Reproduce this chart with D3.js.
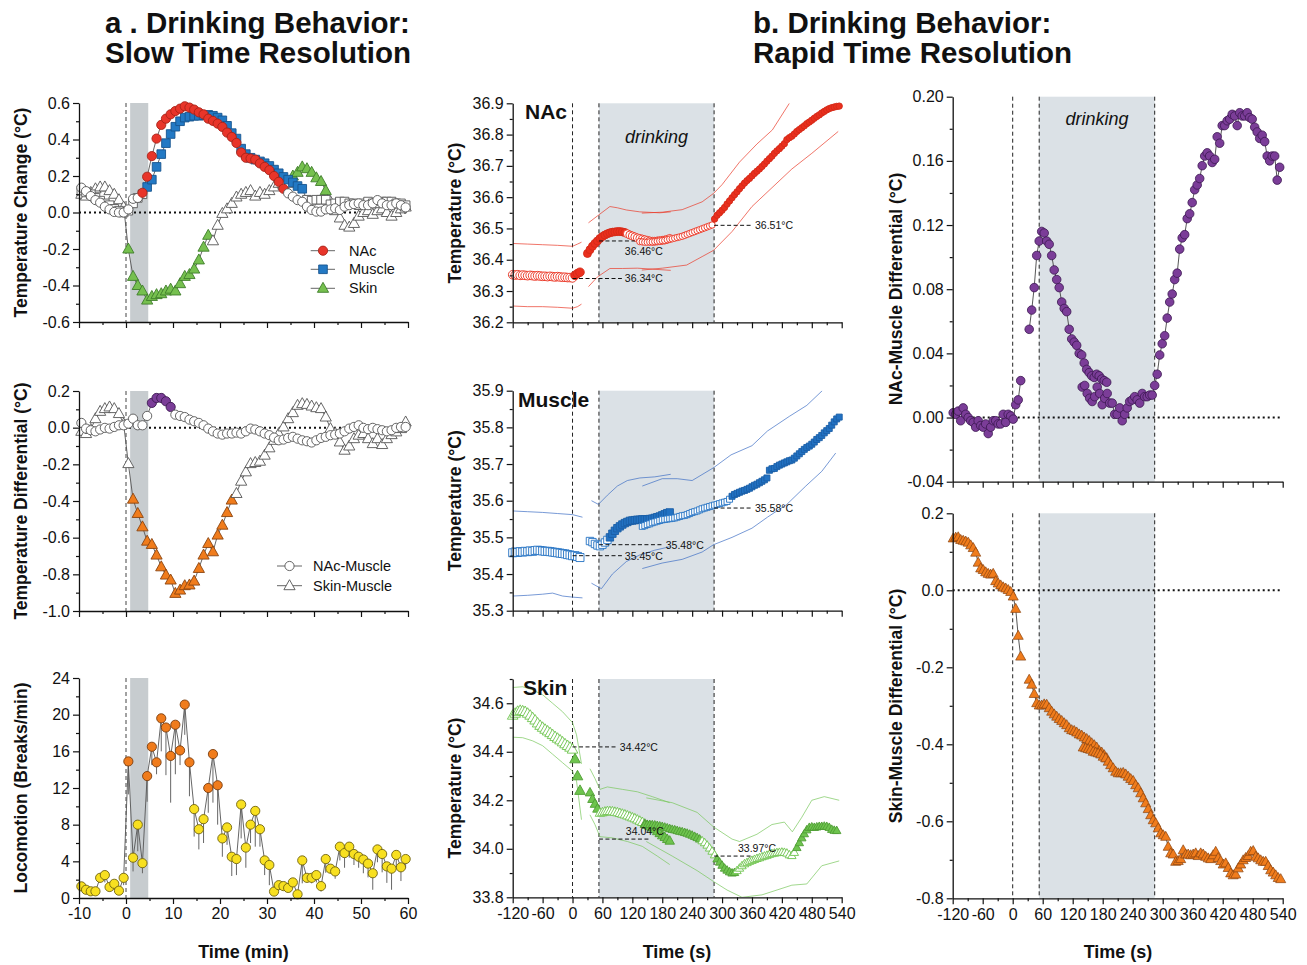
<!DOCTYPE html>
<html>
<head>
<meta charset="utf-8">
<script src="https://cdn.jsdelivr.net/npm/d3@7/dist/d3.min.js"></script>
<style>
  body { margin: 0; background: #fff; }
</style>
</head>
<body>
<script>
// ---------------- data ----------------
// drinking bout boundaries (s), relative to bout onset marker at 0
const drinkOnset = 53;
const drinkOffset = 284;

// slow time resolution: one value per minute, centred on half minutes
const minuteT = d3.range(70).map(i => -9.5 + i);

const nacChange = [0.136, 0.117, 0.09, 0.068, 0.054, 0.032, 0.017, 0.003, 0.0, 0.0,
  0.017, 0.075, 0.08, 0.108, 0.196, 0.309, 0.405, 0.48, 0.514, 0.538,
  0.556, 0.569, 0.582, 0.575, 0.564, 0.549, 0.538, 0.514, 0.502, 0.487,
  0.469, 0.438, 0.414, 0.381, 0.329, 0.3, 0.296, 0.29, 0.269, 0.25,
  0.232, 0.2, 0.168, 0.13, 0.105, 0.087, 0.068, 0.059, 0.032, 0.014,
  0.005, 0.005, 0.017, 0.017, 0.023, 0.014, 0.032, 0.04, 0.046, 0.05,
  0.04, 0.04, 0.05, 0.068, 0.05, 0.04, 0.04, 0.05, 0.04, 0.028];
const muscleChange = [0.12, 0.11, 0.10, 0.08, 0.065, 0.05, 0.04, 0.02, 0.01, 0.0,
  0.01, 0.05, 0.08, 0.10, 0.14, 0.18, 0.25, 0.32, 0.38, 0.43,
  0.47, 0.50, 0.52, 0.525, 0.53, 0.53, 0.533, 0.535, 0.53, 0.52,
  0.505, 0.475, 0.435, 0.405, 0.35, 0.32, 0.30, 0.29, 0.28, 0.27,
  0.255, 0.235, 0.215, 0.195, 0.18, 0.165, 0.145, 0.13, 0.07, 0.065,
  0.07, 0.07, 0.07, 0.045, 0.05, 0.06, 0.06, 0.05, 0.05, 0.04,
  0.05, 0.06, 0.05, 0.05, 0.06, 0.06, 0.06, 0.05, 0.05, 0.04];
const skinChange = [0.10, 0.09, 0.11, 0.13, 0.14, 0.14, 0.12, 0.10, 0.07, 0.03,
  -0.20, -0.35, -0.40, -0.43, -0.48, -0.46, -0.45, -0.445, -0.43, -0.42,
  -0.43, -0.39, -0.35, -0.34, -0.31, -0.26, -0.19, -0.125, -0.155, -0.07,
  -0.005, 0.02, 0.05, 0.085, 0.10, 0.11, 0.12, 0.09, 0.11, 0.10,
  0.12, 0.14, 0.16, 0.15, 0.16, 0.20, 0.22, 0.25, 0.24, 0.22,
  0.19, 0.17, 0.12, 0.06, 0.01, -0.03, -0.07, -0.08, -0.06, -0.02,
  0.0, 0.01, -0.01, 0.01, 0.02, 0.0, -0.02, 0.0, 0.02, 0.03];
const nacMuscleDiff = [0.026, -0.005, -0.014, -0.02, -0.01, -0.001, -0.005, 0.004, 0.013, 0.013,
  0.022, 0.049, 0.013, 0.013, 0.064, 0.135, 0.162, 0.162, 0.144, 0.113,
  0.071, 0.064, 0.058, 0.044, 0.035, 0.026, 0.013, -0.005, -0.02, -0.032,
  -0.038, -0.032, -0.032, -0.027, -0.032, -0.02, -0.005, -0.01, -0.02, -0.032,
  -0.041, -0.054, -0.069, -0.065, -0.056, -0.05, -0.06, -0.069, -0.074, -0.081,
  -0.069, -0.056, -0.05, -0.041, -0.038, -0.032, -0.02, -0.005, 0.004, 0.013,
  -0.001, -0.008, -0.001, -0.008, -0.014, -0.02, -0.014, -0.001, 0.004, 0.004];
const skinMuscleDiff = [-0.02, -0.032, -0.01, 0.049, 0.089, 0.104, 0.113, 0.104, 0.077, 0.02,
  -0.196, -0.39, -0.468, -0.541, -0.619, -0.637, -0.695, -0.759, -0.804, -0.831,
  -0.904, -0.886, -0.862, -0.858, -0.837, -0.768, -0.695, -0.632, -0.677, -0.586,
  -0.532, -0.463, -0.395, -0.359, -0.292, -0.241, -0.196, -0.19, -0.183, -0.15,
  -0.11, -0.069, -0.032, 0.004, 0.049, 0.082, 0.122, 0.131, 0.127, 0.118,
  0.109, 0.104, 0.058, -0.005, -0.03, -0.078, -0.123, -0.1, -0.06, -0.041,
  -0.032, -0.06, -0.087, -0.06, -0.092, -0.06, -0.038, -0.023, -0.005, 0.031];
const locomotion = [1.27, 0.9, 0.73, 0.73, 2.2, 2.5, 1.2, 1.55, 0.8, 2.2,
  14.9, 4.4, 8.0, 3.8, 13.3, 16.5, 14.8, 19.6, 18.6, 15.5,
  18.9, 16.1, 21.1, 14.8, 9.7, 7.5, 8.6, 12.0, 15.7, 12.3,
  6.5, 7.7, 4.5, 4.25, 10.2, 5.5, 8.0, 9.5, 7.5, 4.1,
  3.6, 0.7, 1.4, 1.3, 1.1, 1.7, 0.4, 4.1, 2.2, 2.2,
  2.5, 1.3, 4.25, 3.2, 2.9, 5.6, 4.9, 5.6, 4.8, 4.5,
  4.2, 3.75, 2.7, 5.3, 4.8, 3.45, 3.2, 4.7, 3.35, 4.25];
const locomotionSem = [0.5, 0.4, 0.3, 0.3, 0.5, 0.8, 0.5, 0.4, 0.3, 0.8,
  3.6, 1.5, 2.9, 1.1, 2.8, 2.0, 1.3, 3.6, 5.2, 5.1,
  5.4, 1.6, 3.3, 3.7, 3.0, 2.2, 2.6, 2.7, 5.3, 4.3,
  2.0, 1.9, 2.1, 1.75, 3.7, 2.2, 2.0, 3.9, 1.9, 1.6,
  2.2, 0.4, 0.3, 0.3, 0.4, 0.5, 0.3, 2.5, 0.5, 0.6,
  0.8, 0.6, 1.5, 0.5, 0.8, 1.5, 1.6, 1.2, 1.2, 1.2,
  1.5, 1.5, 1.8, 1.4, 2.0, 1.8, 2.3, 1.5, 1.5, 1.0];

// minutes in which the change is significant (filled symbols)
const nacSigMin = [[3.5, 33.5]];
const muscleSigMin = [[4.5, 37.5]];
const skinSigMin = [[0.5, 17.5], [35.5, 42.5]];
const nacMuscleSigMin = [[5.5, 9.5]];
const skinMuscleSigMin = [[1.5, 22.5]];
const locomotionSigMin = [[0.5, 0.5], [4.5, 13.5], [17.5, 19.5]];

// rapid time resolution: 5-s bins, three analysis segments
const binS = 5;

const nacStart = [-120, 30, 135];
const nacSeg1 = [36.352, 36.351, 36.352, 36.350, 36.351, 36.350, 36.349, 36.350, 36.349, 36.348,
  36.349, 36.348, 36.347, 36.347, 36.346, 36.347, 36.346, 36.345, 36.346, 36.345,
  36.344, 36.344, 36.343, 36.343, 36.342, 36.350, 36.356, 36.360];
const nacSeg2 = [36.420, 36.432, 36.443, 36.452, 36.460, 36.468, 36.474, 36.479, 36.483, 36.486,
  36.488, 36.489, 36.490, 36.490, 36.489, 36.487, 36.483, 36.479, 36.476, 36.473,
  36.470, 36.468, 36.466, 36.464, 36.462, 36.460, 36.459, 36.459, 36.460, 36.461,
  36.462, 36.463, 36.465, 36.468];
const nacSeg3 = [36.458, 36.457, 36.456, 36.456, 36.457, 36.457, 36.458, 36.459, 36.460, 36.461,
  36.462, 36.464, 36.466, 36.467, 36.469, 36.471, 36.473, 36.475, 36.478, 36.481,
  36.484, 36.487, 36.490, 36.493, 36.496, 36.499, 36.502, 36.505, 36.508, 36.511,
  36.530, 36.542, 36.550, 36.558, 36.567, 36.578, 36.588, 36.598, 36.608, 36.617,
  36.627, 36.636, 36.645, 36.653, 36.660, 36.668, 36.676, 36.683, 36.690, 36.698,
  36.706, 36.715, 36.723, 36.731, 36.740, 36.748, 36.755, 36.763, 36.771, 36.784,
  36.790, 36.795, 36.802, 36.810, 36.816, 36.822, 36.828, 36.835, 36.840, 36.846,
  36.852, 36.858, 36.863, 36.869, 36.874, 36.879, 36.883, 36.886, 36.888, 36.890,
  36.891];
const nacSigS = [[[5, 15]], [[30, 105]], [[285, 540]]];
const nacSemHi = [
  [[-120, 36.452], [-90, 36.450], [-60, 36.448], [-30, 36.446], [0, 36.443], [10, 36.450], [18, 36.456]],
  [[32, 36.518], [50, 36.540], [75, 36.570], [90, 36.566], [108, 36.559], [135, 36.553], [175, 36.550], [197, 36.553]],
  [[139, 36.549], [180, 36.552], [220, 36.560], [260, 36.585], [283, 36.612], [300, 36.640], [335, 36.712], [370, 36.770], [401, 36.815], [435, 36.900]]
];
const nacSemLo = [
  [[-120, 36.252], [-90, 36.250], [-60, 36.250], [-30, 36.248], [0, 36.245], [10, 36.250], [18, 36.258]],
  [[32, 36.314], [50, 36.345], [75, 36.372], [100, 36.372], [130, 36.373], [160, 36.370], [197, 36.366]],
  [[139, 36.367], [180, 36.373], [229, 36.383], [260, 36.410], [283, 36.430], [320, 36.490], [360, 36.570], [400, 36.630], [440, 36.690], [480, 36.740], [533, 36.810]]
];
const nacRefs = [36.34, 36.46, 36.51];

const musStart = [-120, 35, 140];
const musSeg1 = [35.458, 35.460, 35.459, 35.461, 35.460, 35.462, 35.461, 35.463, 35.462, 35.464,
  35.465, 35.464, 35.463, 35.462, 35.462, 35.461, 35.460, 35.459, 35.458, 35.457,
  35.456, 35.455, 35.453, 35.452, 35.450, 35.450, 35.448, 35.445];
const musSeg2 = [35.490, 35.487, 35.482, 35.478, 35.476, 35.480, 35.486, 35.493, 35.500, 35.510,
  35.518, 35.525, 35.530, 35.535, 35.539, 35.542, 35.545, 35.546, 35.547, 35.548,
  35.548, 35.549, 35.549, 35.549, 35.550, 35.551, 35.553, 35.555, 35.557, 35.560,
  35.563, 35.566, 35.568];
const musSeg3 = [35.530, 35.532, 35.535, 35.537, 35.540, 35.542, 35.544, 35.546, 35.548, 35.549,
  35.550, 35.551, 35.552, 35.553, 35.555, 35.557, 35.559, 35.560, 35.562, 35.565,
  35.568, 35.570, 35.572, 35.575, 35.578, 35.580, 35.582, 35.584, 35.586, 35.588,
  35.590, 35.592, 35.594, 35.596, 35.598, 35.604, 35.612, 35.617, 35.620, 35.623,
  35.626, 35.628, 35.631, 35.634, 35.638, 35.642, 35.645, 35.649, 35.653, 35.657,
  35.662, 35.683, 35.687, 35.688, 35.693, 35.697, 35.700, 35.703, 35.706, 35.709,
  35.711, 35.716, 35.722, 35.728, 35.734, 35.740, 35.745, 35.749, 35.754, 35.760,
  35.767, 35.772, 35.778, 35.785, 35.791, 35.797, 35.806, 35.815, 35.823, 35.828];
const musSigS = [[], [[75, 195]], [[320, 540]]];
const musSemHi = [
  [[-120, 35.572], [-90, 35.570], [-60, 35.568], [-30, 35.565], [0, 35.562], [20, 35.555]],
  [[38, 35.600], [52, 35.590], [70, 35.615], [90, 35.640], [110, 35.655], [135, 35.662], [165, 35.665], [197, 35.672]],
  [[140, 35.640], [180, 35.660], [210, 35.660], [240, 35.655], [283, 35.690], [318, 35.725], [360, 35.750], [391, 35.790], [435, 35.830], [470, 35.860], [501, 35.900]]
];
const musSemLo = [
  [[-120, 35.340], [-90, 35.342], [-60, 35.345], [-40, 35.348], [-20, 35.340], [0, 35.337], [20, 35.335]],
  [[38, 35.375], [58, 35.360], [80, 35.400], [108, 35.434], [135, 35.452], [165, 35.465], [197, 35.475]],
  [[140, 35.415], [180, 35.430], [220, 35.440], [260, 35.460], [283, 35.480], [320, 35.500], [360, 35.525], [391, 35.555], [430, 35.590], [468, 35.640], [500, 35.680], [528, 35.730]]
];
const musRefs = [35.45, 35.48, 35.58];

const skinStart = [-120, 35, 145];
const skinSeg1 = [34.550, 34.558, 34.566, 34.570, 34.568, 34.565, 34.558, 34.550, 34.540, 34.530,
  34.518, 34.508, 34.500, 34.492, 34.485, 34.478, 34.470, 34.462, 34.455, 34.448,
  34.440, 34.432, 34.425, 34.418, 34.410, 34.370, 34.300, 34.240];
const skinSeg2 = [34.232, 34.205, 34.185, 34.165, 34.148, 34.150, 34.153, 34.155, 34.155, 34.154,
  34.152, 34.150, 34.147, 34.144, 34.141, 34.137, 34.133, 34.129, 34.125, 34.120,
  34.115, 34.110, 34.103, 34.098, 34.092, 34.087, 34.080, 34.072, 34.064, 34.055,
  34.048, 34.040, 34.033];
const skinSeg3 = [34.100, 34.100, 34.100, 34.099, 34.098, 34.096, 34.094, 34.092, 34.089, 34.086,
  34.083, 34.080, 34.078, 34.075, 34.072, 34.070, 34.067, 34.064, 34.060, 34.056,
  34.051, 34.046, 34.040, 34.033, 34.025, 34.015, 34.003, 33.990, 33.975, 33.958,
  33.945, 33.932, 33.920, 33.912, 33.905, 33.900, 33.902, 33.910, 33.920, 33.930,
  33.938, 33.943, 33.948, 33.952, 33.956, 33.960, 33.963, 33.967, 33.970, 33.973,
  33.977, 33.980, 33.982, 33.984, 33.985, 33.986, 33.985, 33.982, 33.975, 33.972,
  33.985, 34.005, 34.025, 34.045, 34.062, 34.078, 34.088, 34.090, 34.088, 34.090,
  34.092, 34.092, 34.093, 34.092, 34.088, 34.080, 34.076, 34.075];
const skinSigS = [[[5, 15]], [[35, 50], [145, 195]], [[145, 255], [290, 325], [450, 535]]];
const skinSemHi = [
  [[-120, 34.665], [-100, 34.668], [-80, 34.655], [-60, 34.635], [-40, 34.600], [-20, 34.565], [0, 34.520], [8, 34.470], [18, 34.350]],
  [[35, 34.330], [45, 34.290], [55, 34.245], [70, 34.255], [100, 34.245], [130, 34.235], [160, 34.215], [195, 34.190]],
  [[148, 34.210], [200, 34.190], [250, 34.150], [283, 34.090], [320, 34.040], [335, 34.030], [370, 34.060], [400, 34.100], [425, 34.110], [441, 34.070], [460, 34.130], [480, 34.200], [505, 34.215], [535, 34.200]]
];
const skinSemLo = [
  [[-120, 34.460], [-100, 34.458], [-80, 34.445], [-60, 34.425], [-40, 34.390], [-20, 34.355], [0, 34.320], [8, 34.280], [18, 34.120]],
  [[35, 34.140], [45, 34.100], [55, 34.050], [80, 34.045], [110, 34.030], [140, 34.010], [170, 33.970], [195, 33.935]],
  [[148, 34.030], [200, 33.970], [250, 33.910], [283, 33.865], [310, 33.830], [340, 33.800], [380, 33.810], [440, 33.850], [470, 33.855], [500, 33.930], [535, 33.950]]
];
const skinRefs = [34.42, 34.04, 33.97];

// NAc - muscle differential, 5-s bins
const nmStart = [-119, 33, 139];
const nmSeg1 = [0.003, 0.002, 0.004, -0.002, 0.006, 0.002, 0.000, -0.002, -0.003, -0.006,
  -0.002, -0.005, -0.006, -0.004, -0.010, -0.006, -0.002, -0.002, -0.004, -0.004,
  0.002, -0.003, 0.002, 0.001, -0.001, 0.008, 0.011, 0.023];
const nmSeg2 = [0.055, 0.067, 0.081, 0.101, 0.110, 0.116, 0.115, 0.110, 0.108, 0.101,
  0.092, 0.086, 0.081, 0.072, 0.068, 0.066, 0.055, 0.049, 0.047, 0.045,
  0.040, 0.039, 0.034, 0.030, 0.028, 0.026, 0.025, 0.027, 0.026, 0.024,
  0.023, 0.022];
const nmSeg3 = [0.019, 0.020, 0.015, 0.012, 0.010, 0.013, 0.019, 0.015, 0.008, 0.012,
  0.015, 0.009, 0.009, 0.002, 0.002, 0.006, -0.002, 0.002, 0.006, 0.010,
  0.011, 0.013, 0.011, 0.009, 0.015, 0.013, 0.013, 0.014, 0.014, 0.020,
  0.027, 0.039, 0.046, 0.051, 0.062, 0.072, 0.077, 0.086, 0.090, 0.105,
  0.112, 0.114, 0.124, 0.127, 0.134, 0.142, 0.145, 0.149, 0.157, 0.163,
  0.165, 0.163, 0.159, 0.161, 0.175, 0.171, 0.182, 0.182, 0.185, 0.186,
  0.189, 0.188, 0.182, 0.190, 0.188, 0.188, 0.190, 0.187, 0.186, 0.181,
  0.178, 0.174, 0.176, 0.172, 0.163, 0.160, 0.163, 0.163, 0.148, 0.156];

// skin - muscle differential, 5-s bins
const smStart = [-119, 33, 141];
const smSeg1 = [0.135, 0.137, 0.138, 0.131, 0.129, 0.127, 0.124, 0.117, 0.110, 0.098,
  0.072, 0.057, 0.053, 0.047, 0.043, 0.041, 0.043, 0.024, 0.018, 0.013,
  0.008, 0.005, 0.001, -0.004, -0.016, -0.048, -0.118, -0.172];
const smSeg2 = [-0.232, -0.245, -0.269, -0.293, -0.299, -0.299, -0.296, -0.297, -0.306, -0.315,
  -0.322, -0.328, -0.334, -0.339, -0.345, -0.350, -0.358, -0.363, -0.365, -0.369,
  -0.374, -0.377, -0.382, -0.386, -0.391, -0.397, -0.402, -0.408, -0.417, -0.421,
  -0.428, -0.436];
const smSeg3 = [-0.408, -0.410, -0.412, -0.414, -0.419, -0.421, -0.423, -0.426, -0.432, -0.436,
  -0.445, -0.454, -0.462, -0.471, -0.475, -0.475, -0.474, -0.478, -0.484, -0.490,
  -0.495, -0.506, -0.514, -0.527, -0.540, -0.553, -0.568, -0.584, -0.597, -0.605,
  -0.618, -0.631, -0.636, -0.640, -0.666, -0.683, -0.686, -0.705, -0.703, -0.698,
  -0.675, -0.686, -0.686, -0.688, -0.686, -0.683, -0.690, -0.683, -0.686, -0.692,
  -0.696, -0.698, -0.688, -0.679, -0.695, -0.703, -0.712, -0.709, -0.721, -0.735,
  -0.740, -0.738, -0.722, -0.712, -0.701, -0.695, -0.690, -0.679, -0.677, -0.692,
  -0.696, -0.701, -0.705, -0.705, -0.716, -0.727, -0.733, -0.740, -0.747, -0.750];

// ---------------- drawing ----------------
const FONT = '"Liberation Sans", Arial, Helvetica, sans-serif';
const svg = d3.select('body').append('svg')
  .attr('width', 1307).attr('height', 965)
  .attr('font-family', FONT);
svg.append('rect').attr('width', 1307).attr('height', 965).attr('fill', '#fff');
const defs = svg.append('defs');

const within = (t, ranges) => ranges.some(r => t >= r[0] - 1e-6 && t <= r[1] + 1e-6);
const minutePts = (vals, sig) => vals.map((v, i) => ({ t: minuteT[i], v, f: within(minuteT[i], sig) }));
const segPts = (vals, t0, sig) => vals.map((v, i) => {
  const t = t0 + i * binS;
  return { t, v, f: within(t, sig) };
});

let clipCount = 0;
function clipFor(x, y) {
  const id = 'plotclip' + (clipCount++);
  defs.append('clipPath').attr('id', id).append('rect')
    .attr('x', x.range()[0]).attr('y', y.range()[1])
    .attr('width', x.range()[1] - x.range()[0])
    .attr('height', y.range()[0] - y.range()[1]);
  return `url(#${id})`;
}

function styleAxis(g) {
  g.attr('font-family', FONT);
  g.select('.domain').attr('stroke', '#111').attr('stroke-width', 1.3);
  g.selectAll('.tick line').attr('stroke', '#111').attr('stroke-width', 1.2);
  g.selectAll('.tick text').attr('font-size', 16).attr('fill', '#111');
}

function drawAxes(x, y, o) {
  const y0 = y.range()[0], x0 = x.range()[0];
  const xm = svg.append('g').attr('transform', `translate(0,${y0})`)
    .call(d3.axisBottom(x).tickValues(o.xMinor).tickSize(3).tickFormat(''));
  xm.select('.domain').remove(); styleAxis(xm);
  const ym = svg.append('g').attr('transform', `translate(${x0},0)`)
    .call(d3.axisLeft(y).tickValues(o.yMinor).tickSize(3).tickFormat(''));
  ym.select('.domain').remove(); styleAxis(ym);
  const xa = svg.append('g').attr('transform', `translate(0,${y0})`)
    .call(d3.axisBottom(x).tickValues(o.xMajor).tickSize(6).tickSizeOuter(0).tickPadding(4)
      .tickFormat(o.xLabels ? (d => String(d)) : ''));
  styleAxis(xa);
  const ya = svg.append('g').attr('transform', `translate(${x0},0)`)
    .call(d3.axisLeft(y).tickValues(o.yMajor).tickSize(6).tickSizeOuter(0).tickPadding(3)
      .tickFormat(d => d.toFixed(o.yDec)));
  styleAxis(ya);
}

function yTitle(text, xBase, yc) {
  svg.append('text')
    .attr('transform', `translate(${xBase},${yc}) rotate(-90)`)
    .attr('text-anchor', 'middle').attr('font-weight', 'bold')
    .attr('font-size', 17.5).attr('fill', '#111').text(text);
}
function xTitle(text, xc) {
  svg.append('text').attr('x', xc).attr('y', 958)
    .attr('text-anchor', 'middle').attr('font-weight', 'bold')
    .attr('font-size', 18).attr('fill', '#111').text(text);
}

function shapePath(shape, s) {
  if (shape === 'circle') {
    const r = s / 2;
    return `M${-r},0A${r},${r} 0 1,0 ${r},0A${r},${r} 0 1,0 ${-r},0Z`;
  }
  if (shape === 'square') {
    const h = s / 2;
    return `M${-h},${-h}H${h}V${h}H${-h}Z`;
  }
  return `M0,${-0.6 * s}L${0.56 * s},${0.4 * s}L${-0.56 * s},${0.4 * s}Z`;
}

function drawMarkers(pts, x, y, shape, s, st) {
  svg.append('g').selectAll('path').data(pts).join('path')
    .attr('transform', d => `translate(${x(d.t)},${y(d.v)})`)
    .attr('d', shapePath(shape, s))
    .attr('fill', d => d.f ? st.fill : st.open)
    .attr('stroke', d => d.f ? st.stroke : st.openStroke)
    .attr('stroke-width', st.sw);
}

function drawLine(pts, x, y, color, w, clip) {
  const p = svg.append('path').datum(pts)
    .attr('d', d3.line().x(d => x(d.t)).y(d => y(d.v)))
    .attr('fill', 'none').attr('stroke', color).attr('stroke-width', w)
    .attr('stroke-linejoin', 'round');
  if (clip) p.attr('clip-path', clip);
}

function zeroLine(x, y) {
  svg.append('line')
    .attr('x1', x.range()[0]).attr('x2', x.range()[1])
    .attr('y1', y(0)).attr('y2', y(0))
    .attr('stroke', '#111').attr('stroke-width', 2).attr('stroke-dasharray', '2,3');
}

function vDash(x, y, t, color) {
  svg.append('line')
    .attr('x1', x(t)).attr('x2', x(t))
    .attr('y1', y.range()[1]).attr('y2', y.range()[0])
    .attr('stroke', color).attr('stroke-width', 1).attr('stroke-dasharray', '4,3');
}

function shade(x, y, t0, t1, color) {
  svg.append('rect')
    .attr('x', x(t0)).attr('width', x(t1) - x(t0))
    .attr('y', y.range()[1]).attr('height', y.range()[0] - y.range()[1])
    .attr('fill', color);
}

// colour sets
const openGray = { open: '#fff', openStroke: '#555', sw: 0.9 };
const stRed = Object.assign({ fill: '#e8352a', stroke: '#a82418' }, openGray);
const stBlue = Object.assign({ fill: '#2379c4', stroke: '#17558e' }, openGray);
const stGreen = Object.assign({ fill: '#76c04f', stroke: '#3e7d2a' }, openGray);
const stPurple = Object.assign({ fill: '#7b3d98', stroke: '#3d1b52' }, openGray);
const stOrange = Object.assign({ fill: '#f07c1c', stroke: '#8a4410' }, openGray);
const stLoco = { fill: '#f07c1c', stroke: '#7a3c0c', open: '#f8e020', openStroke: '#6f6210', sw: 0.9 };

// ---------- titles ----------
[['a . Drinking Behavior:', 105, 33], ['Slow Time Resolution', 105, 63],
 ['b. Drinking Behavior:', 753, 33], ['Rapid Time Resolution', 753, 63]].forEach(([s, x, y]) => {
  svg.append('text').attr('x', x).attr('y', y)
    .attr('font-size', 29.5).attr('font-weight', 'bold').attr('fill', '#111').text(s);
});

// ---------- column a: slow time resolution ----------
const xA = d3.scaleLinear().domain([-10, 60]).range([79, 408]);
const yA1 = d3.scaleLinear().domain([-0.6, 0.6]).range([322, 103]);
const yA2 = d3.scaleLinear().domain([-1.0, 0.2]).range([611, 391]);
const yA3 = d3.scaleLinear().domain([0, 24]).range([898, 678]);
const xMajA = d3.range(-10, 61, 10), xMinA = d3.range(-5, 60, 10);

[yA1, yA2, yA3].forEach(y => {
  shade(xA, y, drinkOnset / 60, drinkOffset / 60, '#c7cccf');
  vDash(xA, y, 0, '#444');
});
zeroLine(xA, yA1);
zeroLine(xA, yA2);

// temperature change
const nacPts = minutePts(nacChange, nacSigMin);
const musPts = minutePts(muscleChange, muscleSigMin);
const skinPts = minutePts(skinChange, skinSigMin);
[skinPts, musPts, nacPts].forEach(p => drawLine(p, xA, yA1, '#555', 0.9));
drawMarkers(skinPts, xA, yA1, 'triangle', 10, stGreen);
drawMarkers(musPts, xA, yA1, 'square', 8.6, stBlue);
drawMarkers(nacPts, xA, yA1, 'circle', 9.2, stRed);
drawAxes(xA, yA1, { xMajor: xMajA, xMinor: xMinA, xLabels: false,
  yMajor: d3.range(-6, 7, 2).map(d => d / 10), yMinor: d3.range(-5, 6, 2).map(d => d / 10), yDec: 1 });
yTitle('Temperature Change (°C)', 27, 212.5);

// legend
[['NAc', 'circle', 9.2, stRed, 250.7], ['Muscle', 'square', 8.6, stBlue, 269.3], ['Skin', 'triangle', 10, stGreen, 288.3]]
  .forEach(([name, shape, s, st, y]) => {
    svg.append('line').attr('x1', 310.7).attr('x2', 335).attr('y1', y).attr('y2', y)
      .attr('stroke', '#555').attr('stroke-width', 0.9);
    svg.append('path').attr('transform', `translate(323,${y})`).attr('d', shapePath(shape, s))
      .attr('fill', st.fill).attr('stroke', st.stroke).attr('stroke-width', st.sw);
    svg.append('text').attr('x', 349).attr('y', y + 5).attr('font-size', 14.5).attr('fill', '#111').text(name);
  });

// temperature differential
const nmPtsA = minutePts(nacMuscleDiff, nacMuscleSigMin);
const smPtsA = minutePts(skinMuscleDiff, skinMuscleSigMin);
[smPtsA, nmPtsA].forEach(p => drawLine(p, xA, yA2, '#555', 0.9));
drawMarkers(smPtsA, xA, yA2, 'triangle', 10, stOrange);
drawMarkers(nmPtsA, xA, yA2, 'circle', 9.2, stPurple);
drawAxes(xA, yA2, { xMajor: xMajA, xMinor: xMinA, xLabels: false,
  yMajor: d3.range(-10, 3, 2).map(d => d / 10), yMinor: d3.range(-9, 2, 2).map(d => d / 10), yDec: 1 });
yTitle('Temperature Differential (°C)', 27, 501);

[['NAc-Muscle', 'circle', 9.2, 566], ['Skin-Muscle', 'triangle', 10, 585.7]].forEach(([name, shape, s, y]) => {
  svg.append('line').attr('x1', 277).attr('x2', 302).attr('y1', y).attr('y2', y)
    .attr('stroke', '#555').attr('stroke-width', 0.9);
  svg.append('path').attr('transform', `translate(289.5,${y})`).attr('d', shapePath(shape, s))
    .attr('fill', '#fff').attr('stroke', '#555').attr('stroke-width', 0.9);
  svg.append('text').attr('x', 313).attr('y', y + 5).attr('font-size', 14.5).attr('fill', '#111').text(name);
});

// locomotion
const locoPts = minutePts(locomotion, locomotionSigMin);
svg.append('g').selectAll('line').data(locoPts.map((d, i) => Object.assign({ e: locomotionSem[i] }, d)))
  .join('line')
  .attr('x1', d => xA(d.t)).attr('x2', d => xA(d.t))
  .attr('y1', d => yA3(d.v)).attr('y2', d => yA3(Math.max(0, d.v - d.e)))
  .attr('stroke', '#666').attr('stroke-width', 1);
drawLine(locoPts, xA, yA3, '#555', 0.9);
drawMarkers(locoPts, xA, yA3, 'circle', 9.2, stLoco);
drawAxes(xA, yA3, { xMajor: xMajA, xMinor: xMinA, xLabels: true,
  yMajor: d3.range(0, 25, 4), yMinor: d3.range(2, 24, 4), yDec: 0 });
yTitle('Locomotion (Breaks/min)', 27, 788);
xTitle('Time (min)', 243.5);

// ---------- column b: rapid time resolution, absolute temperatures ----------
const xB = d3.scaleLinear().domain([-120, 540]).range([512.7, 841.7]);
const xMajS = d3.range(-120, 541, 60), xMinS = d3.range(-90, 540, 60);

function tempPanel(y, p) {
  shade(xB, y, drinkOnset, drinkOffset, '#dbe1e6');
  [0, drinkOnset, drinkOffset].forEach(t => vDash(xB, y, t, '#222'));
  const clip = clipFor(xB, y);
  p.hi.concat(p.lo).forEach(seg =>
    drawLine(seg.map(([t, v]) => ({ t, v })), xB, y, p.semColor, 0.7, clip));
  p.segs.forEach((vals, i) => {
    const pts = segPts(vals, p.starts[i], p.sig[i]);
    drawMarkers(pts, xB, y, p.shape, p.sizes[i],
      { fill: p.color, stroke: p.edge, open: '#fff', openStroke: p.color, sw: 0.9 });
  });
  // reference levels with their values
  p.refs.forEach((v, i) => {
    const r = p.refLayout[i];
    svg.append('line').attr('x1', xB(r[0])).attr('x2', xB(r[1]))
      .attr('y1', y(v)).attr('y2', y(v))
      .attr('stroke', '#111').attr('stroke-width', 1).attr('stroke-dasharray', '4,2.5');
    svg.append('text').attr('x', xB(r[2])).attr('y', y(v) + r[3])
      .attr('font-size', 10.5).attr('fill', '#111').text(v.toFixed(2) + '°C');
  });
  svg.append('text').attr('x', p.labelX).attr('y', p.labelY)
    .attr('font-size', 21).attr('font-weight', 'bold').attr('fill', '#111').text(p.label);
  drawAxes(xB, y, { xMajor: xMajS, xMinor: xMinS, xLabels: p.xLabels,
    yMajor: p.yMajor, yMinor: p.yMinor, yDec: 1 });
}

const yB1 = d3.scaleLinear().domain([36.2, 36.9]).range([322.3, 103.3]);
tempPanel(yB1, {
  segs: [nacSeg1, nacSeg2, nacSeg3], starts: nacStart, sig: nacSigS,
  hi: nacSemHi, lo: nacSemLo, shape: 'circle', sizes: [8.6, 8, 6.4],
  color: '#ea2f1d', edge: '#d42a18', semColor: '#ea3a28',
  refs: nacRefs, refLayout: [[0, 99, 105, 3.8], [53, 125, 105, 14.5], [284, 359, 366, 3.8]],
  label: 'NAc', labelX: 525, labelY: 119, xLabels: false,
  yMajor: d3.range(362, 370).map(d => d / 10), yMinor: d3.range(3625, 3690, 10).map(d => d / 100)
});
svg.append('text').attr('x', (xB(drinkOnset) + xB(drinkOffset)) / 2).attr('y', 143)
  .attr('text-anchor', 'middle').attr('font-size', 18).attr('font-style', 'italic')
  .attr('fill', '#111').text('drinking');
yTitle('Temperature (°C)', 461, 213);

const yB2 = d3.scaleLinear().domain([35.3, 35.9]).range([610.7, 390.7]);
tempPanel(yB2, {
  segs: [musSeg1, musSeg2, musSeg3], starts: musStart, sig: musSigS,
  hi: musSemHi, lo: musSemLo, shape: 'square', sizes: [8, 7.4, 6],
  color: '#2272c3', edge: '#1a5ea6', semColor: '#3d6fc4',
  refs: musRefs, refLayout: [[0, 99, 105, 3.8], [53, 179, 187, 3.8], [284, 359, 366, 3.8]],
  label: 'Muscle', labelX: 518, labelY: 407, xLabels: false,
  yMajor: d3.range(353, 360).map(d => d / 10), yMinor: d3.range(3535, 3590, 10).map(d => d / 100)
});
yTitle('Temperature (°C)', 461, 500.7);

const yB3 = d3.scaleLinear().domain([33.8, 34.7]).range([897.3, 679]);
tempPanel(yB3, {
  segs: [skinSeg1, skinSeg2, skinSeg3], starts: skinStart, sig: skinSigS,
  hi: skinSemHi, lo: skinSemLo, shape: 'triangle', sizes: [9.5, 8.5, 7.5],
  color: '#6ec44e', edge: '#4f9d34', semColor: '#78c75c',
  refs: skinRefs, refLayout: [[0, 89, 95, 3.8], [53, 155, 107, -4], [284, 359, 332, -4]],
  label: 'Skin', labelX: 523, labelY: 695, xLabels: true,
  yMajor: [33.8, 34.0, 34.2, 34.4, 34.6], yMinor: [33.9, 34.1, 34.3, 34.5, 34.7]
});
yTitle('Temperature (°C)', 461, 788);
xTitle('Time (s)', 677);

// ---------- column c: rapid time resolution, differentials ----------
const xC = d3.scaleLinear().domain([-120, 540]).range([952.7, 1282.7]);

function diffPanel(y, segs, starts, shape, s, st) {
  shade(xC, y, drinkOnset, drinkOffset, '#dbe1e6');
  zeroLine(xC, y);
  [0, drinkOnset, drinkOffset].forEach(t => vDash(xC, y, t, '#222'));
  const all = segs.map((vals, i) => segPts(vals, starts[i], [[-1000, 1000]]));
  all.forEach(p => drawLine(p, xC, y, '#444', 0.9));
  all.forEach(p => drawMarkers(p, xC, y, shape, s, st));
}

const yC1 = d3.scaleLinear().domain([-0.04, 0.20]).range([481.7, 96.7]);
diffPanel(yC1, [nmSeg1, nmSeg2, nmSeg3], nmStart, 'circle', 8.6,
  { fill: '#7b3d98', stroke: '#3b1850', open: '#fff', openStroke: '#555', sw: 0.8 });
svg.append('text').attr('x', (xC(drinkOnset) + xC(drinkOffset)) / 2).attr('y', 125)
  .attr('text-anchor', 'middle').attr('font-size', 18).attr('font-style', 'italic')
  .attr('fill', '#111').text('drinking');
drawAxes(xC, yC1, { xMajor: xMajS, xMinor: xMinS, xLabels: false,
  yMajor: d3.range(-4, 21, 4).map(d => d / 100), yMinor: d3.range(-2, 20, 4).map(d => d / 100), yDec: 2 });
yTitle('NAc-Muscle Differential (°C)', 902, 289);

const yC2 = d3.scaleLinear().domain([-0.8, 0.2]).range([898.3, 513.3]);
diffPanel(yC2, [smSeg1, smSeg2, smSeg3], smStart, 'triangle', 9,
  { fill: '#f07c1c', stroke: '#8a4410', open: '#fff', openStroke: '#555', sw: 0.7 });
drawAxes(xC, yC2, { xMajor: xMajS, xMinor: xMinS, xLabels: true,
  yMajor: d3.range(-8, 3, 2).map(d => d / 10), yMinor: d3.range(-7, 2, 2).map(d => d / 10), yDec: 1 });
yTitle('Skin-Muscle Differential (°C)', 902, 706);
xTitle('Time (s)', 1118);
</script>
</body>
</html>
